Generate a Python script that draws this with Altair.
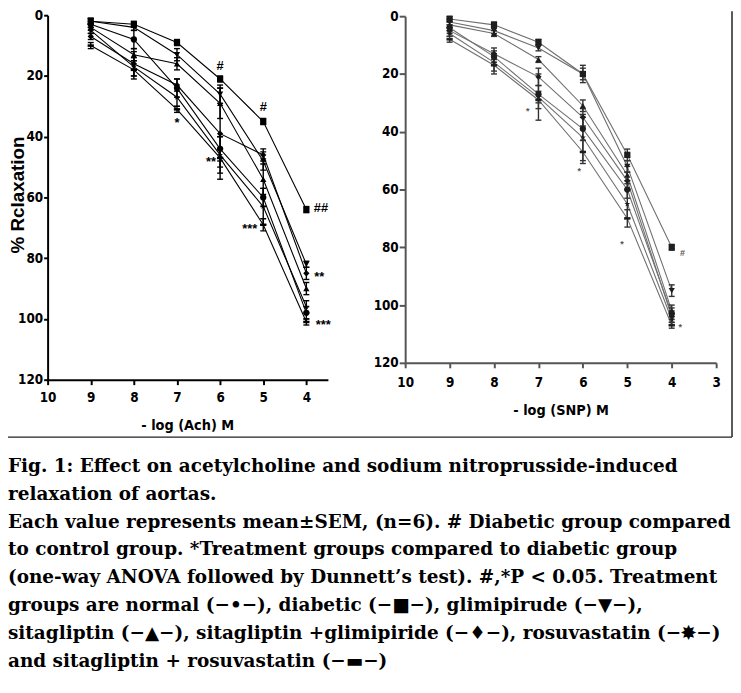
import altair as alt
import pandas as pd

# ---------------- data ----------------
conc = [9, 8, 7, 6, 5, 4]
groups = ["normal", "diabetic", "glimipiride", "sitagliptin",
          "sitagliptin + glimipiride", "rosuvastatin", "sitagliptin + rosuvastatin"]

# Acetylcholine (left panel): mean % relaxation
ach_normal = [3, 8, 24, 44, 60, 98]
ach_diabetic = [2, 3, 9, 21, 35, 64]
ach_glim = [2, 4, 13, 26, 48, 82]
ach_sita = [4, 13, 16, 29, 54, 90]
ach_sita_glim = [7, 16, 23, 39, 46, 85]
ach_rosu = [5, 17, 27, 46, 63, 96]
ach_sita_rosu = [10, 18, 31, 47, 69, 101]
# SEM
ach_normal_sem = [1, 3, 3, 4, 3, 2]
ach_diabetic_sem = [1, 1, 1, 1, 1, 1]
ach_glim_sem = [1, 1, 2, 3, 3, 1]
ach_sita_sem = [1, 2, 2, 5, 5, 2]
ach_sita_glim_sem = [1, 4, 2, 15, 2, 2]
ach_rosu_sem = [1, 3, 3, 6, 6, 2]
ach_sita_rosu_sem = [1, 3, 1, 3, 2, 1]

# Sodium nitroprusside (right panel): mean % relaxation
snp_normal = [4, 14, 27, 39, 60, 103]
snp_diabetic = [1, 3, 9, 20, 48, 80]
snp_glim = [2, 5, 11, 20, 52, 95]
snp_sita = [3, 6, 15, 31, 55, 102]
snp_sita_glim = [5, 13, 21, 35, 57, 104]
snp_rosu = [6, 16, 28, 42, 65, 105]
snp_sita_rosu = [8, 17, 29, 47, 70, 107]
# SEM
snp_normal_sem = [1, 2, 3, 4, 3, 2]
snp_diabetic_sem = [1, 1, 1, 2, 2, 1]
snp_glim_sem = [1, 1, 1, 3, 2, 2]
snp_sita_sem = [1, 1, 1, 2, 3, 2]
snp_sita_glim_sem = [1, 2, 3, 3, 3, 2]
snp_rosu_sem = [1, 3, 8, 8, 5, 2]
snp_sita_rosu_sem = [1, 3, 3, 4, 3, 1]

# significance marks (text, x position, y position in data units)
ach_ann_text = ["#", "#", "##", "*", "**", "***", "**", "***"]
ach_ann_x = [6.0, 5.0, 3.66, 7.0, 6.21, 5.31, 3.70, 3.61]
ach_ann_y = [16.6, 30.3, 63.6, 34.6, 47.3, 69.4, 85.1, 101.1]

snp_ann_text = ["*", "*", "*", "#", "*"]
snp_ann_x = [7.24, 6.08, 5.12, 3.76, 3.81]
snp_ann_y = [32, 53, 78, 82, 107]

y_ticks = [0, 20, 40, 60, 80, 100, 120]
ach_x_ticks = [10, 9, 8, 7, 6, 5, 4]
snp_x_ticks = [10, 9, 8, 7, 6, 5, 4, 3]

caption_lines = [
    "Fig. 1: Effect on acetylcholine and sodium nitroprusside-induced",
    "relaxation of aortas.",
    "Each value represents mean\u00b1SEM, (n=6). # Diabetic group compared",
    "to control group. *Treatment groups compared to diabetic group",
    "(one-way ANOVA followed by Dunnett\u2019s test). #,*P < 0.05. Treatment",
    "groups are normal (\u2212\u2022\u2212), diabetic (\u2212\u25a0\u2212), glimipirude (\u2212\u25bc\u2212),",
    "sitagliptin (\u2212\u25b2\u2212), sitagliptin +glimipiride (\u2212\u2666\u2212), rosuvastatin (\u2212\u2738\u2212)",
    "and sitagliptin + rosuvastatin (\u2212\u25ac\u2212)",
]

# ---------------- helpers ----------------
STAR = ("M0,-1L0.24,-0.33L0.95,-0.31L0.38,0.12L0.59,0.81L0,0.4L-0.59,0.81"
        "L-0.38,0.12L-0.95,-0.31L-0.24,-0.33Z")
BAR = "M-1,-0.4H1V0.4H-1Z"
shape_scale = alt.Scale(domain=groups,
                        range=["circle", "square", "triangle-down", "triangle-up",
                               "diamond", STAR, BAR])


def long_df(values, sems):
    rows = []
    for g, vals, ss in zip(groups, values, sems):
        for c, v, s in zip(conc, vals, ss):
            rows.append(dict(conc=c, val=v, lo=v - s, hi=v + s, group=g))
    return pd.DataFrame(rows)


ach_df = long_df(
    [ach_normal, ach_diabetic, ach_glim, ach_sita, ach_sita_glim, ach_rosu, ach_sita_rosu],
    [ach_normal_sem, ach_diabetic_sem, ach_glim_sem, ach_sita_sem, ach_sita_glim_sem,
     ach_rosu_sem, ach_sita_rosu_sem])
snp_df = long_df(
    [snp_normal, snp_diabetic, snp_glim, snp_sita, snp_sita_glim, snp_rosu, snp_sita_rosu],
    [snp_normal_sem, snp_diabetic_sem, snp_glim_sem, snp_sita_sem, snp_sita_glim_sem,
     snp_rosu_sem, snp_sita_rosu_sem])
ach_ann = pd.DataFrame({"t": ach_ann_text, "x": ach_ann_x, "y": ach_ann_y})
snp_ann = pd.DataFrame({"t": snp_ann_text, "x": snp_ann_x, "y": snp_ann_y})

W, H = 732, 677
LABEL_FONT = "Liberation Sans Narrow, DejaVu Sans Condensed, Arial Narrow, sans-serif"


def panel(df, ann, xdom, xticks, xrng, yrng, line_color, mark_color, err_color,
          axis_color, xtitle, xtitle_pos, ytitle, xlabel_pad, tick_y, ann_size, ann_color):
    xs = alt.Scale(domain=xdom, range=xrng, nice=False, zero=False)
    ys = alt.Scale(domain=[0, 120], range=yrng, nice=False, zero=False)
    common = dict(labelFont=LABEL_FONT, labelFontWeight="bold", labelFontSize=13.5,
                  labelColor="black", domainColor=axis_color, domainWidth=2,
                  tickColor=axis_color, tickWidth=2, grid=False, format="d",
                  labelOverlap=False, labelFlush=False)
    xaxis = alt.Axis(orient="bottom", offset=yrng[1] - H, values=xticks, tickSize=5,
                     labelPadding=xlabel_pad, title=xtitle,
                     titleX=xtitle_pos[0], titleY=xtitle_pos[1],
                     titleFont=LABEL_FONT, titleFontSize=14.5, titleFontWeight="bold",
                     titleAlign="center", titleBaseline="alphabetic", titleColor="black",
                     **common)
    yargs = dict(orient="left", offset=-xrng[0], values=y_ticks, tickSize=tick_y,
                 labelPadding=1, **common)
    if ytitle:
        yaxis = alt.Axis(title=ytitle, titleX=-24, titleY=185, titleAngle=270,
                         titleFont="Liberation Sans, Arial, sans-serif", titleFontSize=19,
                         titleFontWeight="bold", titleAlign="center",
                         titleBaseline="alphabetic", titleColor="black", **yargs)
    else:
        yaxis = alt.Axis(title=None, **yargs)

    base = alt.Chart(df)
    lines = base.mark_line(color=line_color, strokeWidth=1.1).encode(
        x=alt.X("conc:Q", scale=xs, axis=xaxis),
        y=alt.Y("val:Q", scale=ys, axis=yaxis),
        detail="group:N")
    errs = base.mark_rule(color=err_color, strokeWidth=1.4).encode(
        x=alt.X("conc:Q", scale=xs, axis=None),
        y=alt.Y("lo:Q", scale=ys, axis=None), y2="hi:Q")
    caps = base.transform_fold(["lo", "hi"], as_=["k", "v"]).mark_tick(
        orient="horizontal", size=6, thickness=1.4, color=err_color, opacity=1).encode(
        x=alt.X("conc:Q", scale=xs, axis=None),
        y=alt.Y("v:Q", scale=ys, axis=None))
    pts = base.mark_point(filled=True, opacity=1, size=40, color=mark_color).encode(
        x=alt.X("conc:Q", scale=xs, axis=None),
        y=alt.Y("val:Q", scale=ys, axis=None),
        shape=alt.Shape("group:N", scale=shape_scale, legend=None))
    hash_marks = alt.Chart(ann).transform_filter("indexof(datum.t, '#') >= 0").mark_text(
        font="Liberation Sans", fontWeight="bold", fontSize=ann_size, color=ann_color,
        baseline="middle", align="center").encode(
        x=alt.X("x:Q", scale=xs, axis=None), y=alt.Y("y:Q", scale=ys, axis=None), text="t:N")
    star_marks = alt.Chart(ann).transform_filter("indexof(datum.t, '*') >= 0").mark_text(
        font="Liberation Sans", fontWeight="bold", fontSize=ann_size, color=ann_color,
        baseline="middle", align="center", dy=ann_size * 0.25).encode(
        x=alt.X("x:Q", scale=xs, axis=None), y=alt.Y("y:Q", scale=ys, axis=None), text="t:N")
    return [lines, errs, caps, pts, hash_marks, star_marks]


# view coordinates = page coordinates - 8 (page margin)
left = panel(ach_df, ach_ann, [10, 3.5], ach_x_ticks, [40, 323], [4, 372],
             "black", "black", "black", "black",
             "- log (Ach) M", (181, 50), "% Rclaxation", 6, 4, 13, "black")
right = panel(snp_df, snp_ann, [10, 3], snp_x_ticks, [401, 715], [5, 355],
              "#707070", "#1e1e1e", "#333333", "#555555",
              "- log (SNP) M", (558, 52), None, 8, 6, 9, "#555555")

cap_df = pd.DataFrame({"line": list(range(len(caption_lines))), "text": caption_lines})
caption = alt.Chart(cap_df).mark_text(
    align="left", baseline="alphabetic", font="DejaVu Serif", fontWeight="bold",
    fontSize=18.6, color="black").encode(
    x=alt.value(0),
    y=alt.Y("line:Q", scale=alt.Scale(domain=[0, 7], range=[465, 662], nice=False,
                                      zero=False), axis=None),
    text="text:N")

frame_src = alt.Data(values=[{}])
edge_r = alt.Chart(frame_src).mark_rule(color="#222222", strokeWidth=1.5).encode(
    x=alt.value(731), y=alt.value(0), y2=alt.value(430))
edge_b = alt.Chart(frame_src).mark_rule(color="#222222", strokeWidth=1.5).encode(
    x=alt.value(0), x2=alt.value(731), y=alt.value(430))

chart = alt.layer(*left, *right, caption, edge_r, edge_b).resolve_scale(
    x="independent", y="independent", shape="shared").properties(
    width=W, height=H, autosize=alt.AutoSizeParams(type="none"), padding=0
).configure_view(stroke=None)

chart.save("out.html", embed_options={"renderer": "svg", "actions": False})
